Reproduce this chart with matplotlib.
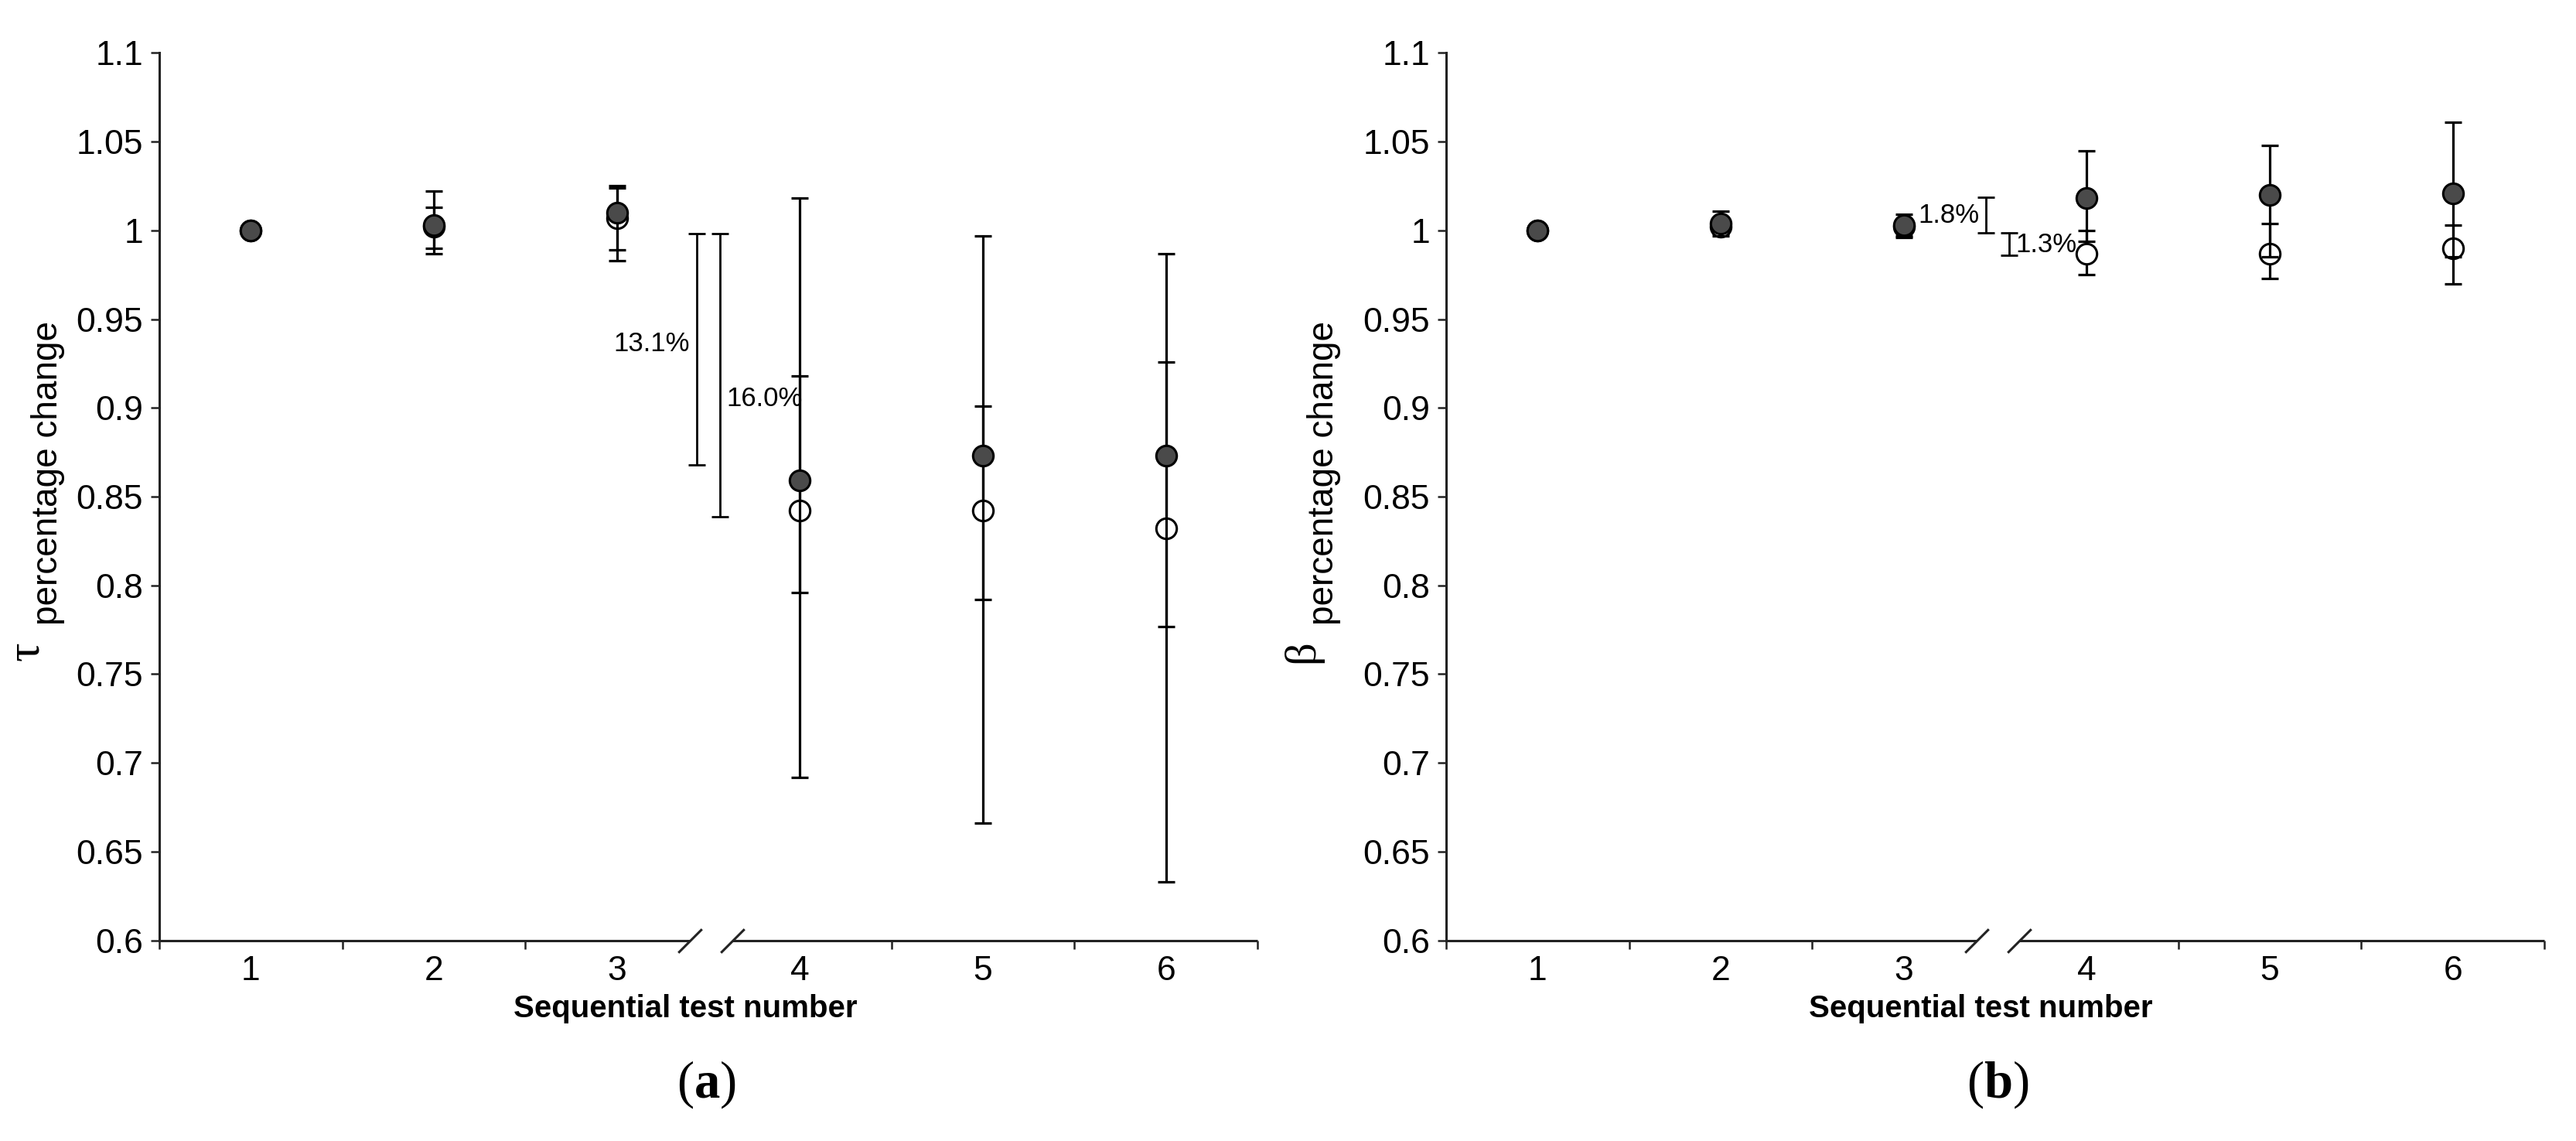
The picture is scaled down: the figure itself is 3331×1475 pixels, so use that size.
"""Sequential test: tau / beta percentage change with error bars"""

import numpy as np
import matplotlib
matplotlib.use("Agg")
import matplotlib.pyplot as plt
from matplotlib.path import Path
from matplotlib.ticker import FuncFormatter

plt.rcParams['font.family'] = ['Liberation Sans', 'DejaVu Sans']
plt.rcParams['mathtext.fontset'] = 'custom'
plt.rcParams['mathtext.rm'] = 'Liberation Serif'
plt.rcParams['mathtext.bf'] = 'Liberation Serif:bold'

# ---- data ----------------------------------------------------------
tests = [1, 2, 3, 4, 5, 6]

tau_filled = [1.000, 1.003, 1.010, 0.859, 0.873, 0.873]
tau_filled_hi = [1.000, 1.022, 1.025, 1.018, 0.997, 0.987]
tau_filled_lo = [1.000, 0.987, 0.983, 0.692, 0.666, 0.633]
tau_open = [1.000, 1.002, 1.007, 0.842, 0.842, 0.832]
tau_open_hi = [1.000, 1.013, 1.024, 0.918, 0.901, 0.926]
tau_open_lo = [1.000, 0.990, 0.989, 0.796, 0.792, 0.777]

beta_filled = [1.000, 1.004, 1.003, 1.018, 1.020, 1.021]
beta_filled_hi = [1.000, 1.011, 1.009, 1.045, 1.048, 1.061]
beta_filled_lo = [1.000, 0.997, 0.996, 0.994, 0.985, 0.985]
beta_open = [1.000, 1.002, 1.002, 0.987, 0.987, 0.990]
beta_open_hi = [1.000, 1.006, 1.006, 1.000, 1.004, 1.003]
beta_open_lo = [1.000, 0.998, 0.997, 0.975, 0.973, 0.970]

# bracket bars showing the drop between test 3 and test 4
tau_gap_x = [3.435, 3.565]
tau_gap_top = [0.998, 0.998]
tau_gap_bottom = [0.868, 0.8385]
tau_gap_labels = ['13.1%', '16.0%']
tau_gap_label_y = [0.936, 0.905]

beta_gap_x = [3.448, 3.576]
beta_gap_top = [1.0186, 0.9986]
beta_gap_bottom = [0.9986, 0.986]
beta_gap_labels = ['1.8%', '1.3%']
beta_gap_label_y = [1.0085, 0.9917]

# ---- layout ----------------------------------------------------------
W, H = 3331, 1475
AX_COL = '#222222'
DARK = '#4a4a4a'
BREAK = (3.40, 3.63)
slash = Path([(-1, -1), (1, 1)], [Path.MOVETO, Path.LINETO])


def fx(px):
    return px / W


def fy(py):
    return 1 - py / H


def draw_panel(ax, filled, f_lo, f_hi, opn, o_lo, o_hi,
               gap_x, gap_top, gap_bottom, gap_labels, gap_label_y, label_side):
    filled, f_lo, f_hi = map(np.asarray, (filled, f_lo, f_hi))
    opn, o_lo, o_hi = map(np.asarray, (opn, o_lo, o_hi))

    # open series first, then the filled one on top (Excel order)
    ax.errorbar(tests, opn, yerr=[opn - o_lo, o_hi - opn], fmt='none',
                ecolor='k', elinewidth=2.3, capsize=8, capthick=2.3, zorder=2)
    ax.plot(tests, opn, 'o', ls='none', ms=19, mfc='white', mec='k',
            mew=2.2, zorder=3)
    ax.errorbar(tests, filled, yerr=[filled - f_lo, f_hi - filled], fmt='none',
                ecolor='k', elinewidth=2.3, capsize=8, capthick=2.3, zorder=4)
    ax.plot(tests, filled, 'o', ls='none', ms=19, mfc=DARK, mec='k',
            mew=2.2, zorder=5)

    # percentage brackets
    gx = np.asarray(gap_x)
    top = np.asarray(gap_top)
    bot = np.asarray(gap_bottom)
    ax.errorbar(gx, (top + bot) / 2, yerr=(top - bot) / 2, fmt='none',
                ecolor='k', elinewidth=2.0, capsize=8, capthick=2.0, zorder=2)
    for x, y, txt, side in zip(gx, gap_label_y, gap_labels, label_side):
        off = -6 if side == 'left' else 6
        ax.annotate(txt, xy=(x, y), xytext=(off, 0), textcoords='offset points',
                    ha='right' if side == 'left' else 'left', va='center',
                    fontsize=25)

    ax.set_xlim(0.5, 6.5)
    ax.set_ylim(0.6, 1.1)
    ax.set_yticks(np.arange(0.6, 1.1001, 0.05))
    ax.yaxis.set_major_formatter(FuncFormatter(lambda v, _: f'{round(v, 2):g}'))
    ax.set_xticks(tests)
    ax.set_xticks([0.5, 1.5, 2.5, 4.5, 5.5, 6.5], minor=True)

    for s in ('top', 'right', 'bottom'):
        ax.spines[s].set_visible(False)
    ax.spines['left'].set_linewidth(2.2)
    ax.spines['left'].set_color(AX_COL)

    ax.tick_params(axis='y', direction='out', length=8, width=1.8,
                   labelsize=32, pad=7, color=AX_COL)
    ax.tick_params(axis='x', which='major', length=0, labelsize=32, pad=14)
    ax.tick_params(axis='x', which='minor', direction='out', length=8,
                   width=1.8, color=AX_COL)

    # broken x axis
    tr = ax.get_xaxis_transform()
    ax.plot([0.5, BREAK[0]], [0, 0], transform=tr, clip_on=False,
            color=AX_COL, lw=2.2, solid_capstyle='butt')
    ax.plot([BREAK[1], 6.5], [0, 0], transform=tr, clip_on=False,
            color=AX_COL, lw=2.2, solid_capstyle='butt')
    ax.plot(BREAK, [0, 0], transform=tr, clip_on=False, ls='none',
            marker=slash, ms=22, mew=2.2, color=AX_COL)

    ax.set_xlabel('Sequential test number', fontsize=29, fontweight='bold')


fig = plt.figure(figsize=(W / 100, H / 100), dpi=100)

ax_w = fx(1420)
ax_b = fy(1215.7)
ax_h = fy(68.3) - ax_b

ax1 = fig.add_axes([fx(206), ax_b, ax_w, ax_h])
draw_panel(ax1, tau_filled, tau_filled_lo, tau_filled_hi,
           tau_open, tau_open_lo, tau_open_hi,
           tau_gap_x, tau_gap_top, tau_gap_bottom, tau_gap_labels,
           tau_gap_label_y, ['left', 'right'])
ax1.xaxis.set_label_coords(0.479, -0.060)

ax2 = fig.add_axes([fx(1870), ax_b, ax_w, ax_h])
draw_panel(ax2, beta_filled, beta_filled_lo, beta_filled_hi,
           beta_open, beta_open_lo, beta_open_hi,
           beta_gap_x, beta_gap_top, beta_gap_bottom, beta_gap_labels,
           beta_gap_label_y, ['left', 'right'])
ax2.xaxis.set_label_coords(0.487, -0.060)

# y labels: greek letter + rotated text
fig.text(fx(62), fy(612), 'percentage change', rotation=90,
         ha='center', va='center', fontsize=33)
fig.text(fx(34), fy(842), '\u03c4', rotation=90, ha='center', va='center',
         fontsize=44, family=['Liberation Serif', 'DejaVu Serif'])
fig.text(fx(1712), fy(612), 'percentage change', rotation=90,
         ha='center', va='center', fontsize=33)
fig.text(fx(1684), fy(842), '\u03b2', rotation=90, ha='center', va='center',
         fontsize=42, family=['Liberation Serif', 'DejaVu Serif'])

# panel letters
fig.text(fx(913), fy(1402), r'($\mathbf{a}$)', ha='center', va='center',
         fontsize=48, family='Liberation Serif')
fig.text(fx(2583), fy(1402), r'($\mathbf{b}$)', ha='center', va='center',
         fontsize=48, family='Liberation Serif')

fig.savefig('out.png', dpi=100)
plt.close(fig)
